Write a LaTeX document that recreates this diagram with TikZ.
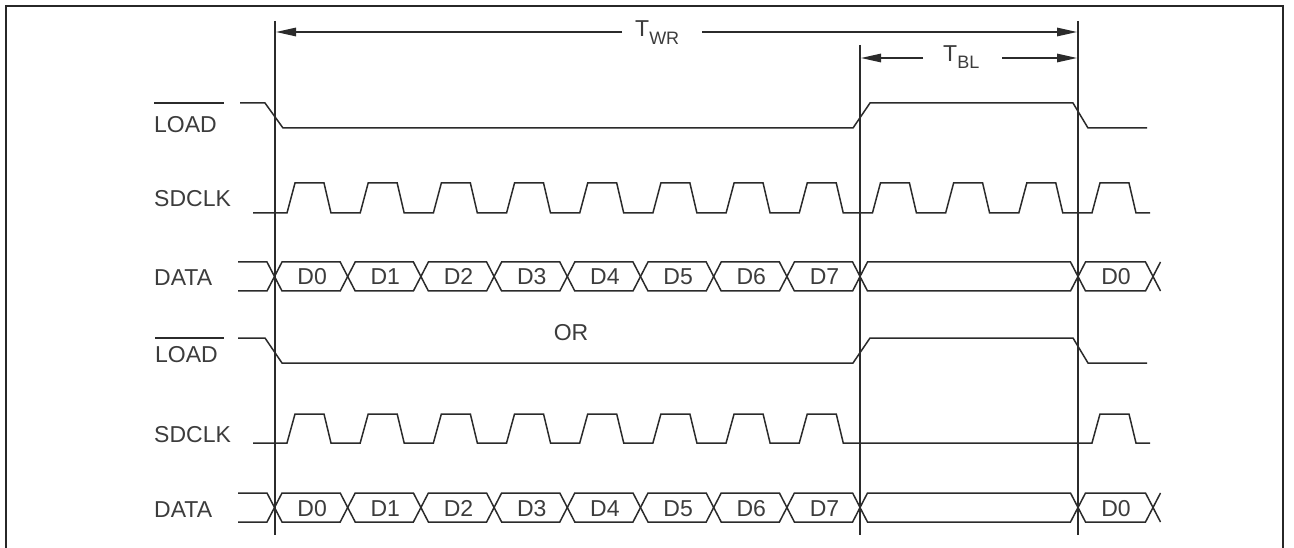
\documentclass[tikz,border=0pt]{standalone}
\usepackage{fontspec}
\setmainfont{Liberation Sans}
\usetikzlibrary{arrows.meta}
\definecolor{ln}{HTML}{2B2B2B}
\definecolor{tx}{HTML}{3C3C3C}
\begin{document}
\begin{tikzpicture}[x=1pt,y=-1pt,
  wave/.style={draw=ln, line width=1.5pt, line join=miter},
  vline/.style={draw=ln, line width=1.4pt},
  frame/.style={draw=ln!90!black, line width=2.2pt},
  dim/.style={draw=ln, line width=1.4pt},
  dimarr/.style={dim, -{Triangle[length=20pt,width=8.5pt]}},
  lbl/.style={text=tx, inner sep=0pt, font=\fontsize{23}{27}\selectfont}]
\useasboundingbox (0,0) rectangle (1294,548);
\fill[white] (0,0) rectangle (1294,548);
% frame
\draw[frame] (6,549) -- (6,6) -- (1283,6) -- (1283,549);
% vertical reference lines
\coordinate (v1t) at (275,21);  \coordinate (v1b) at (275,535);
\coordinate (v2t) at (860,45);  \coordinate (v2b) at (860,535);
\coordinate (v3t) at (1078,21); \coordinate (v3b) at (1078,535);
\draw[vline] (v1t) -- (v1b);
\draw[vline] (v2t) -- (v2b);
\draw[vline] (v3t) -- (v3b);
% T_WR dimension
\node[lbl, anchor=base west] (twr) at (635,37) {T\raisebox{-8pt}{\fontsize{18}{20}\selectfont WR}};
\coordinate (wrL) at (276,32); \coordinate (wrLg) at (622,32);
\coordinate (wrR) at (1077,32); \coordinate (wrRg) at (702,32);
\draw[dimarr] (wrLg) -- (wrL);
\draw[dimarr] (wrRg) -- (wrR);
% T_BL dimension
\node[lbl, anchor=base west] (tbl) at (943,62) {T\raisebox{-7pt}{\fontsize{18}{20}\selectfont BL}};
\coordinate (blL) at (861,58); \coordinate (blLg) at (923,58);
\coordinate (blR) at (1077,58); \coordinate (blRg) at (1002,58);
\draw[dimarr] (blLg) -- (blL);
\draw[dimarr] (blRg) -- (blR);
% signal labels
\node[lbl, anchor=base west] (load1) at (154,133) {LOAD};
\draw[wave] (154,103) -- (224,103);
\node[lbl, anchor=base west] (clk1) at (154,207) {SDCLK};
\node[lbl, anchor=base west] (data1) at (154,286) {DATA};
\node[lbl, anchor=base west] (load2) at (155,362) {LOAD};
\draw[wave] (155,338) -- (224,338);
\node[lbl, anchor=base west] (clk2) at (154,442) {SDCLK};
\node[lbl, anchor=base west] (data2) at (154,517) {DATA};
\node[lbl, anchor=base] (or) at (571,340) {OR};
% LOAD waveforms
\draw[wave] (240,103) -- (265,103) -- (283,128) -- (853,128) -- (870,103) -- (1073,103) -- (1088,128) -- (1147,128);
\draw[wave] (238,338) -- (265,338) -- (282,363) -- (853,363) -- (870,338) -- (1073,338) -- (1088,363) -- (1147,363);
% SDCLK waveforms
\draw[wave] (253,213) \foreach \k in {0,...,11} { -- ({287+73.18*\k},213) -- ({295+73.18*\k},183) -- ({324+73.18*\k},183) -- ({331+73.18*\k},213) } -- (1150,213);
\draw[wave] (253,443) \foreach \k in {0,1,2,3,4,5,6,7,11} { -- ({287+73.18*\k},443) -- ({295+73.18*\k},414) -- ({324+73.18*\k},414) -- ({331+73.18*\k},443) } -- (1150,443);
% DATA waveforms
\newcommand\mydatarow[3]{%
  \pgfmathsetmacro\dt{#1}\pgfmathsetmacro\db{#2}\pgfmathsetmacro\dm{(#1+#2)/2}%
  \draw[wave] (238,\dt) -- (267,\dt) -- (274.5,\dm) (238,\db) -- (267,\db) -- (274.5,\dm);
  \foreach \k/\t in {0/D0,1/D1,2/D2,3/D3,4/D4,5/D5,6/D6,7/D7}{%
    \pgfmathsetmacro\xa{274.5+73.2*\k}\pgfmathsetmacro\xb{\xa+73.2}%
    \draw[wave] (\xa,\dm) -- (\xa+7.5,\dt) -- (\xb-7.5,\dt) -- (\xb,\dm) -- (\xb-7.5,\db) -- (\xa+7.5,\db) -- cycle;
    \node[lbl, anchor=base] (#3\k) at ({(\xa+\xb)/2+1},\db-6) {\t};
  }
  \draw[wave] (860,\dm) -- (867.5,\dt) -- (1070.5,\dt) -- (1078,\dm) -- (1070.5,\db) -- (867.5,\db) -- cycle;
  \draw[wave] (1078,\dm) -- (1085.5,\dt) -- (1145.5,\dt) -- (1153,\dm) -- (1145.5,\db) -- (1085.5,\db) -- cycle;
  \draw[wave] (1153,\dm) -- (1160.5,\dt) (1153,\dm) -- (1160.5,\db);
  \node[lbl, anchor=base] (#3e) at (1116,\db-6) {D0};
}
\mydatarow{262}{291}{da}
\mydatarow{493}{522}{db}
\end{tikzpicture}
\end{document}
